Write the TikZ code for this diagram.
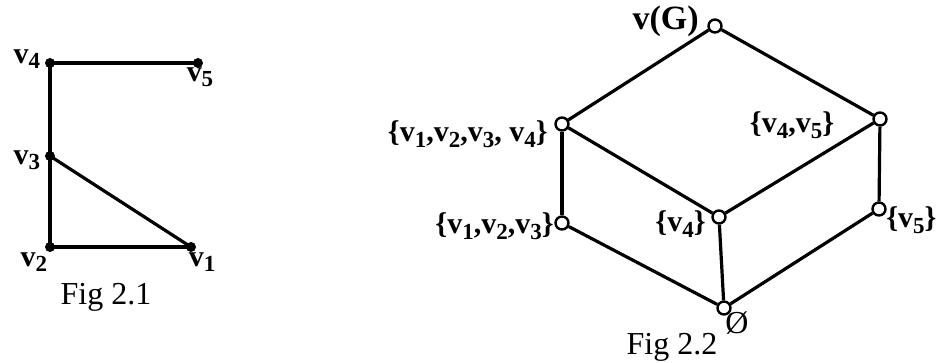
\documentclass[tikz,border=0pt]{standalone}
\usepackage{fontspec}
\setmainfont{Liberation Serif}
\usetikzlibrary{positioning}

\newcommand{\vsub}[1]{v\raisebox{-0.4ex}{\fontsize{11.5}{13}\selectfont #1}}

\tikzset{
    vdot/.style={circle, fill=black, inner sep=0pt, minimum size=5pt},
    vring/.style={circle, draw=black, line width=1.2pt, fill=white, inner sep=0pt, minimum size=6.5pt},
    ln/.style={line width=1.6pt},
    lbl/.style={font=\fontsize{15}{17}\selectfont\bfseries, inner sep=0pt},
    figcap/.style={font=\fontsize{16}{18}\selectfont, inner sep=0pt}
}

\begin{document}
\begin{tikzpicture}[x=0.5pt, y=-0.5pt]
    \useasboundingbox (0,0) rectangle (939,363);

    % Fig 2.1
    \begin{scope}
        \node[vdot] (v4) at (50,63) {};
        \node[vdot] (v5) at (198,63) {};
        \node[vdot] (v3) at (50,156) {};
        \node[vdot] (v2) at (50,247) {};
        \node[vdot] (v1) at (191,247) {};
        \draw[ln] (v4.center) -- (v5.center);
        \draw[ln] (v4.center) -- (v2.center);
        \draw[ln] (v3.center) -- (v1.center);
        \draw[ln] (v2.center) -- (v1.center);
        \node[lbl] (l4) at (27,59) {\vsub{4}};
        \node[lbl] (l5) at (200,77) {\vsub{5}};
        \node[lbl] (l3) at (27,160) {\vsub{3}};
        \node[lbl] (l2) at (34,262) {\vsub{2}};
        \node[lbl] (l1) at (202,262) {\vsub{1}};
        \node[figcap] (fig1) at (106,297) {Fig 2.1};
    \end{scope}

    % Fig 2.2
    \begin{scope}[shift={(400,0)}]
        \node[vring] (g) at (315,26) {};
        \node[vring] (a) at (162,124) {};
        \node[vring] (b) at (480,119) {};
        \node[vring] (c) at (162,223) {};
        \node[vring] (d) at (319,217) {};
        \node[vring] (e) at (479,209) {};
        \node[vring] (o) at (324,308) {};
        \draw[ln] (g) -- (a);
        \draw[ln] (g) -- (b);
        \draw[ln] (a) -- (c);
        \draw[ln] (a) -- (d);
        \draw[ln] (b) -- (d);
        \draw[ln] (b) -- (e);
        \draw[ln] (c) -- (o);
        \draw[ln] (d) -- (o);
        \draw[ln] (e) -- (o);
        \node[lbl, font=\fontsize{17}{19}\selectfont\bfseries, anchor=east] (lg) at (299,21) {v(G)};
        \node[lbl, anchor=east] (la) at (148,134) {\{\vsub{1},\vsub{2},\vsub{3}, \vsub{4}\}};
        \node[lbl] (lb) at (392,125) {\{\vsub{4},\vsub{5}\}};
        \node[lbl, anchor=east] (lc) at (154,226) {\{\vsub{1},\vsub{2},\vsub{3}\}};
        \node[lbl, anchor=east] (ld) at (306,224) {\{\vsub{4}\}};
        \node[lbl, anchor=west] (le) at (486,220) {\{\vsub{5}\}};
        \node[figcap] (lo) at (337,323) {Ø};
        \node[figcap] (fig2) at (272,347) {Fig 2.2};
    \end{scope}
\end{tikzpicture}
\end{document}
